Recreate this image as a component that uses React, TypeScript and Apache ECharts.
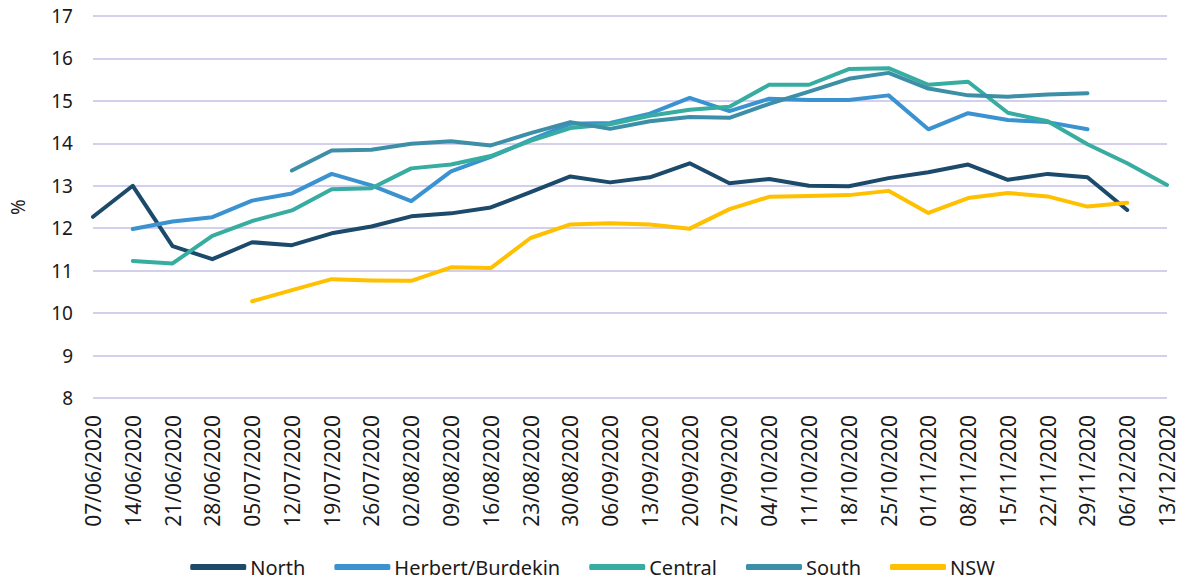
import React, { useEffect, useRef } from "react";
import * as echarts from "echarts";

const categories = [
  "07/06/2020", "14/06/2020", "21/06/2020", "28/06/2020", "05/07/2020", "12/07/2020", "19/07/2020",
  "26/07/2020", "02/08/2020", "09/08/2020", "16/08/2020", "23/08/2020", "30/08/2020", "06/09/2020",
  "13/09/2020", "20/09/2020", "27/09/2020", "04/10/2020", "11/10/2020", "18/10/2020", "25/10/2020",
  "01/11/2020", "08/11/2020", "15/11/2020", "22/11/2020", "29/11/2020", "06/12/2020", "13/12/2020",
];

const north = [12.27, 13.0, 11.58, 11.27, 11.67, 11.6, 11.88, 12.04, 12.28, 12.35, 12.49, 12.85, 13.22, 13.08,
  13.2, 13.53, 13.06, 13.16, 13.0, 12.99, 13.18, 13.32, 13.5, 13.14, 13.28, 13.2, 12.43, null];
const herbert = [null, 11.98, 12.16, 12.26, 12.65, 12.82, 13.28, 13.01, 12.64, 13.34, 13.68, 14.08, 14.46, 14.48,
  14.7, 15.07, 14.76, 15.05, 15.02, 15.02, 15.13, 14.33, 14.71, 14.55, 14.5, 14.33, null, null];
const central = [null, 11.23, 11.17, 11.82, 12.17, 12.42, 12.92, 12.94, 13.41, 13.5, 13.7, 14.06, 14.36, 14.45,
  14.65, 14.79, 14.86, 15.38, 15.38, 15.75, 15.77, 15.38, 15.45, 14.72, 14.52, 13.98, 13.53, 13.02];
const south = [null, null, null, null, null, 13.36, 13.83, 13.85, 13.99, 14.05, 13.95, 14.24, 14.5, 14.34,
  14.52, 14.62, 14.6, 14.93, 15.22, 15.52, 15.66, 15.29, 15.13, 15.1, 15.15, 15.18, null, null];
const nsw = [null, null, null, null, 10.28, 10.54, 10.8, 10.77, 10.76, 11.08, 11.06, 11.77, 12.09, 12.12,
  12.09, 11.99, 12.45, 12.74, 12.76, 12.78, 12.88, 12.36, 12.71, 12.83, 12.75, 12.51, 12.6, null];

const yTicks = { min: 8, max: 17, interval: 1 };

const FONT = "'Noto Sans', sans-serif";

export default function App() {
  const ref = useRef<HTMLDivElement>(null);
  useEffect(() => {
    if (!ref.current) return;
    const chart = echarts.init(ref.current, undefined, { renderer: "svg" });
    const mk = (name: string, data: (number | null)[], color: string) => ({
      name,
      type: "line",
      data,
      symbol: "none",
      connectNulls: false,
      lineStyle: { width: 4, color, cap: "round", join: "round" },
      itemStyle: { color },
    });
    chart.setOption({
      animation: false,
      textStyle: { fontFamily: FONT },
      grid: { left: 90, right: 18, top: 16, bottom: 184, containLabel: false },
      xAxis: {
        type: "category",
        data: categories,
        boundaryGap: false,
        axisLine: { show: false },
        axisTick: { show: false },
        axisLabel: { rotate: 90, fontSize: 21, color: "#1a1a1a", margin: 17, fontFamily: FONT, interval: 0 },
        splitLine: { show: false },
      },
      yAxis: {
        type: "value",
        min: yTicks.min,
        max: yTicks.max,
        interval: yTicks.interval,
        name: "%",
        nameLocation: "middle",
        nameGap: 66,
        nameTextStyle: { fontSize: 19, color: "#1a1a1a", fontFamily: FONT },
        axisLine: { show: false },
        axisTick: { show: false },
        axisLabel: { fontSize: 19, color: "#1a1a1a", margin: 20, fontFamily: FONT },
        splitLine: { lineStyle: { color: "#D3CFEC", width: 2 } },
      },
      legend: {
        bottom: 0,
        left: "center",
        itemWidth: 56,
        itemHeight: 6,
        itemGap: 29,
        icon: "roundRect",
        textStyle: { fontSize: 20, color: "#1a1a1a", fontFamily: FONT, padding: [0, 0, 0, -1] },
        data: ["North", "Herbert/Burdekin", "Central", "South", "NSW"],
      },
      series: [
        mk("North", north, "#1B4A6B"),
        mk("Herbert/Burdekin", herbert, "#3A93D0"),
        mk("Central", central, "#36ADA0"),
        mk("South", south, "#3D8FA8"),
        mk("NSW", nsw, "#FFC000"),
      ],
    });
    return () => chart.dispose();
  }, []);
  return <div ref={ref} style={{ width: 1185, height: 582, position: "absolute", left: 0, top: 0 }} />;
}
